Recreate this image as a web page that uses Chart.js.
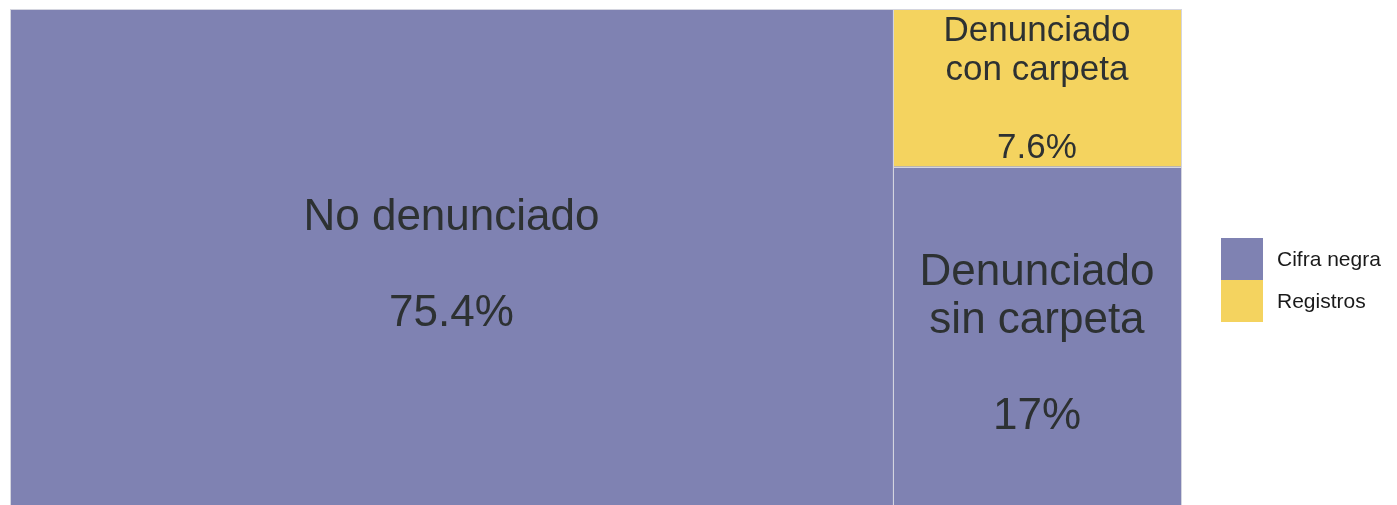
<!DOCTYPE html>
<html>
<head>
<meta charset="utf-8">
<script src="https://cdn.jsdelivr.net/npm/chart.js@4"></script>
<style>
  html, body { margin: 0; padding: 0; background: #fff; overflow: hidden; }
  #wrap { width: 1397px; height: 519px; }
</style>
</head>
<body>
<div id="wrap"><canvas id="treemapChart" width="1397" height="519"></canvas></div>
<script>
// Datos del treemap (porcentajes)
const categorias = ['No denunciado', 'Denunciado sin carpeta', 'Denunciado con carpeta'];
const etiquetas = [['No denunciado'], ['Denunciado', 'sin carpeta'], ['Denunciado', 'con carpeta']];
const valores = [75.4, 17, 7.6];
const grupos = ['Cifra negra', 'Cifra negra', 'Registros'];
const textoValor = ['75.4%', '17%', '7.6%'];

const grupoNombres = ['Cifra negra', 'Registros'];
const grupoColores = ['#7f82b2', '#f4d35f'];

// Layout: columna izquierda = primera categoría, columna derecha apila el resto
const total = valores.reduce((a, b) => a + b, 0);
const anchoIzq = valores[0] / total * 100;
const restoDer = valores[1] + valores[2];
const corteDer = valores[1] / restoDer * 100;   // y donde termina "sin carpeta"

const rects = [
  { x0: 0, x1: anchoIzq, y0: 0, y1: 100 },
  { x0: anchoIzq, x1: 100, y0: 0, y1: corteDer },
  { x0: anchoIzq, x1: 100, y0: corteDer, y1: 100 }
];

const colorDe = i => grupoColores[grupoNombres.indexOf(grupos[i])];

const datasets = rects.map((r, i) => ({
  label: categorias[i],
  data: [{ x: r.x0, y: r.y1 }, { x: r.x1, y: r.y1 }],
  fill: { value: r.y0 },
  backgroundColor: colorDe(i),
  borderWidth: 0,
  pointRadius: 0,
  tension: 0
}));

// Plugin: bordes, textos y leyenda
const treemapTextos = {
  id: 'treemapTextos',
  afterDatasetsDraw(chart) {
    const { ctx, scales: { x, y } } = chart;
    ctx.save();
    // bordes
    ctx.strokeStyle = '#d4d5df';
    ctx.lineWidth = 1;
    rects.forEach(r => {
      const px0 = Math.round(x.getPixelForValue(r.x0)) + 0.5;
      const px1 = Math.round(x.getPixelForValue(r.x1)) + 0.5;
      const py0 = Math.round(y.getPixelForValue(r.y0)) + 0.5;
      const py1 = Math.round(y.getPixelForValue(r.y1)) + 0.5;
      ctx.strokeRect(px0, py1, px1 - px0, py0 - py1);
    });
    // textos
    ctx.fillStyle = '#2d3132';
    ctx.textAlign = 'center';
    ctx.textBaseline = 'middle';
    rects.forEach((r, i) => {
      const grande = valores[i] >= 10;
      const size = grande ? 44 : 35;
      const lh = grande ? 48 : 39;
      const cx = x.getPixelForValue((r.x0 + r.x1) / 2);
      const cy = y.getPixelForValue((r.y0 + r.y1) / 2) + 2;
      const lineas = etiquetas[i].concat(['', textoValor[i]]);
      const inicio = cy - (lineas.length - 1) * lh / 2;
      ctx.font = size + 'px "Liberation Sans", Arial, sans-serif';
      lineas.forEach((t, k) => ctx.fillText(t, cx, inicio + k * lh));
    });
    // leyenda
    const lx = chart.chartArea.right + 40;
    const box = 42;
    const ly = 238;
    ctx.textAlign = 'left';
    ctx.font = '21px "Liberation Sans", Arial, sans-serif';
    grupoNombres.forEach((g, k) => {
      ctx.fillStyle = grupoColores[k];
      ctx.fillRect(lx, ly + k * box, box, box);
      ctx.fillStyle = '#1a1a1a';
      ctx.fillText(g, lx + box + 14, ly + k * box + box / 2 + 1);
    });
    ctx.restore();
  }
};

const ctx = document.getElementById('treemapChart').getContext('2d');
new Chart(ctx, {
  type: 'line',
  data: { datasets },
  options: {
    responsive: false,
    animation: false,
    layout: { padding: { left: 10, top: 9, right: 216, bottom: 0 } },
    scales: {
      x: { type: 'linear', min: 0, max: 100, display: false },
      y: { type: 'linear', min: 0, max: 100, display: false }
    },
    plugins: {
      legend: { display: false },
      tooltip: { enabled: false }
    }
  },
  plugins: [treemapTextos]
});
</script>
</body>
</html>
